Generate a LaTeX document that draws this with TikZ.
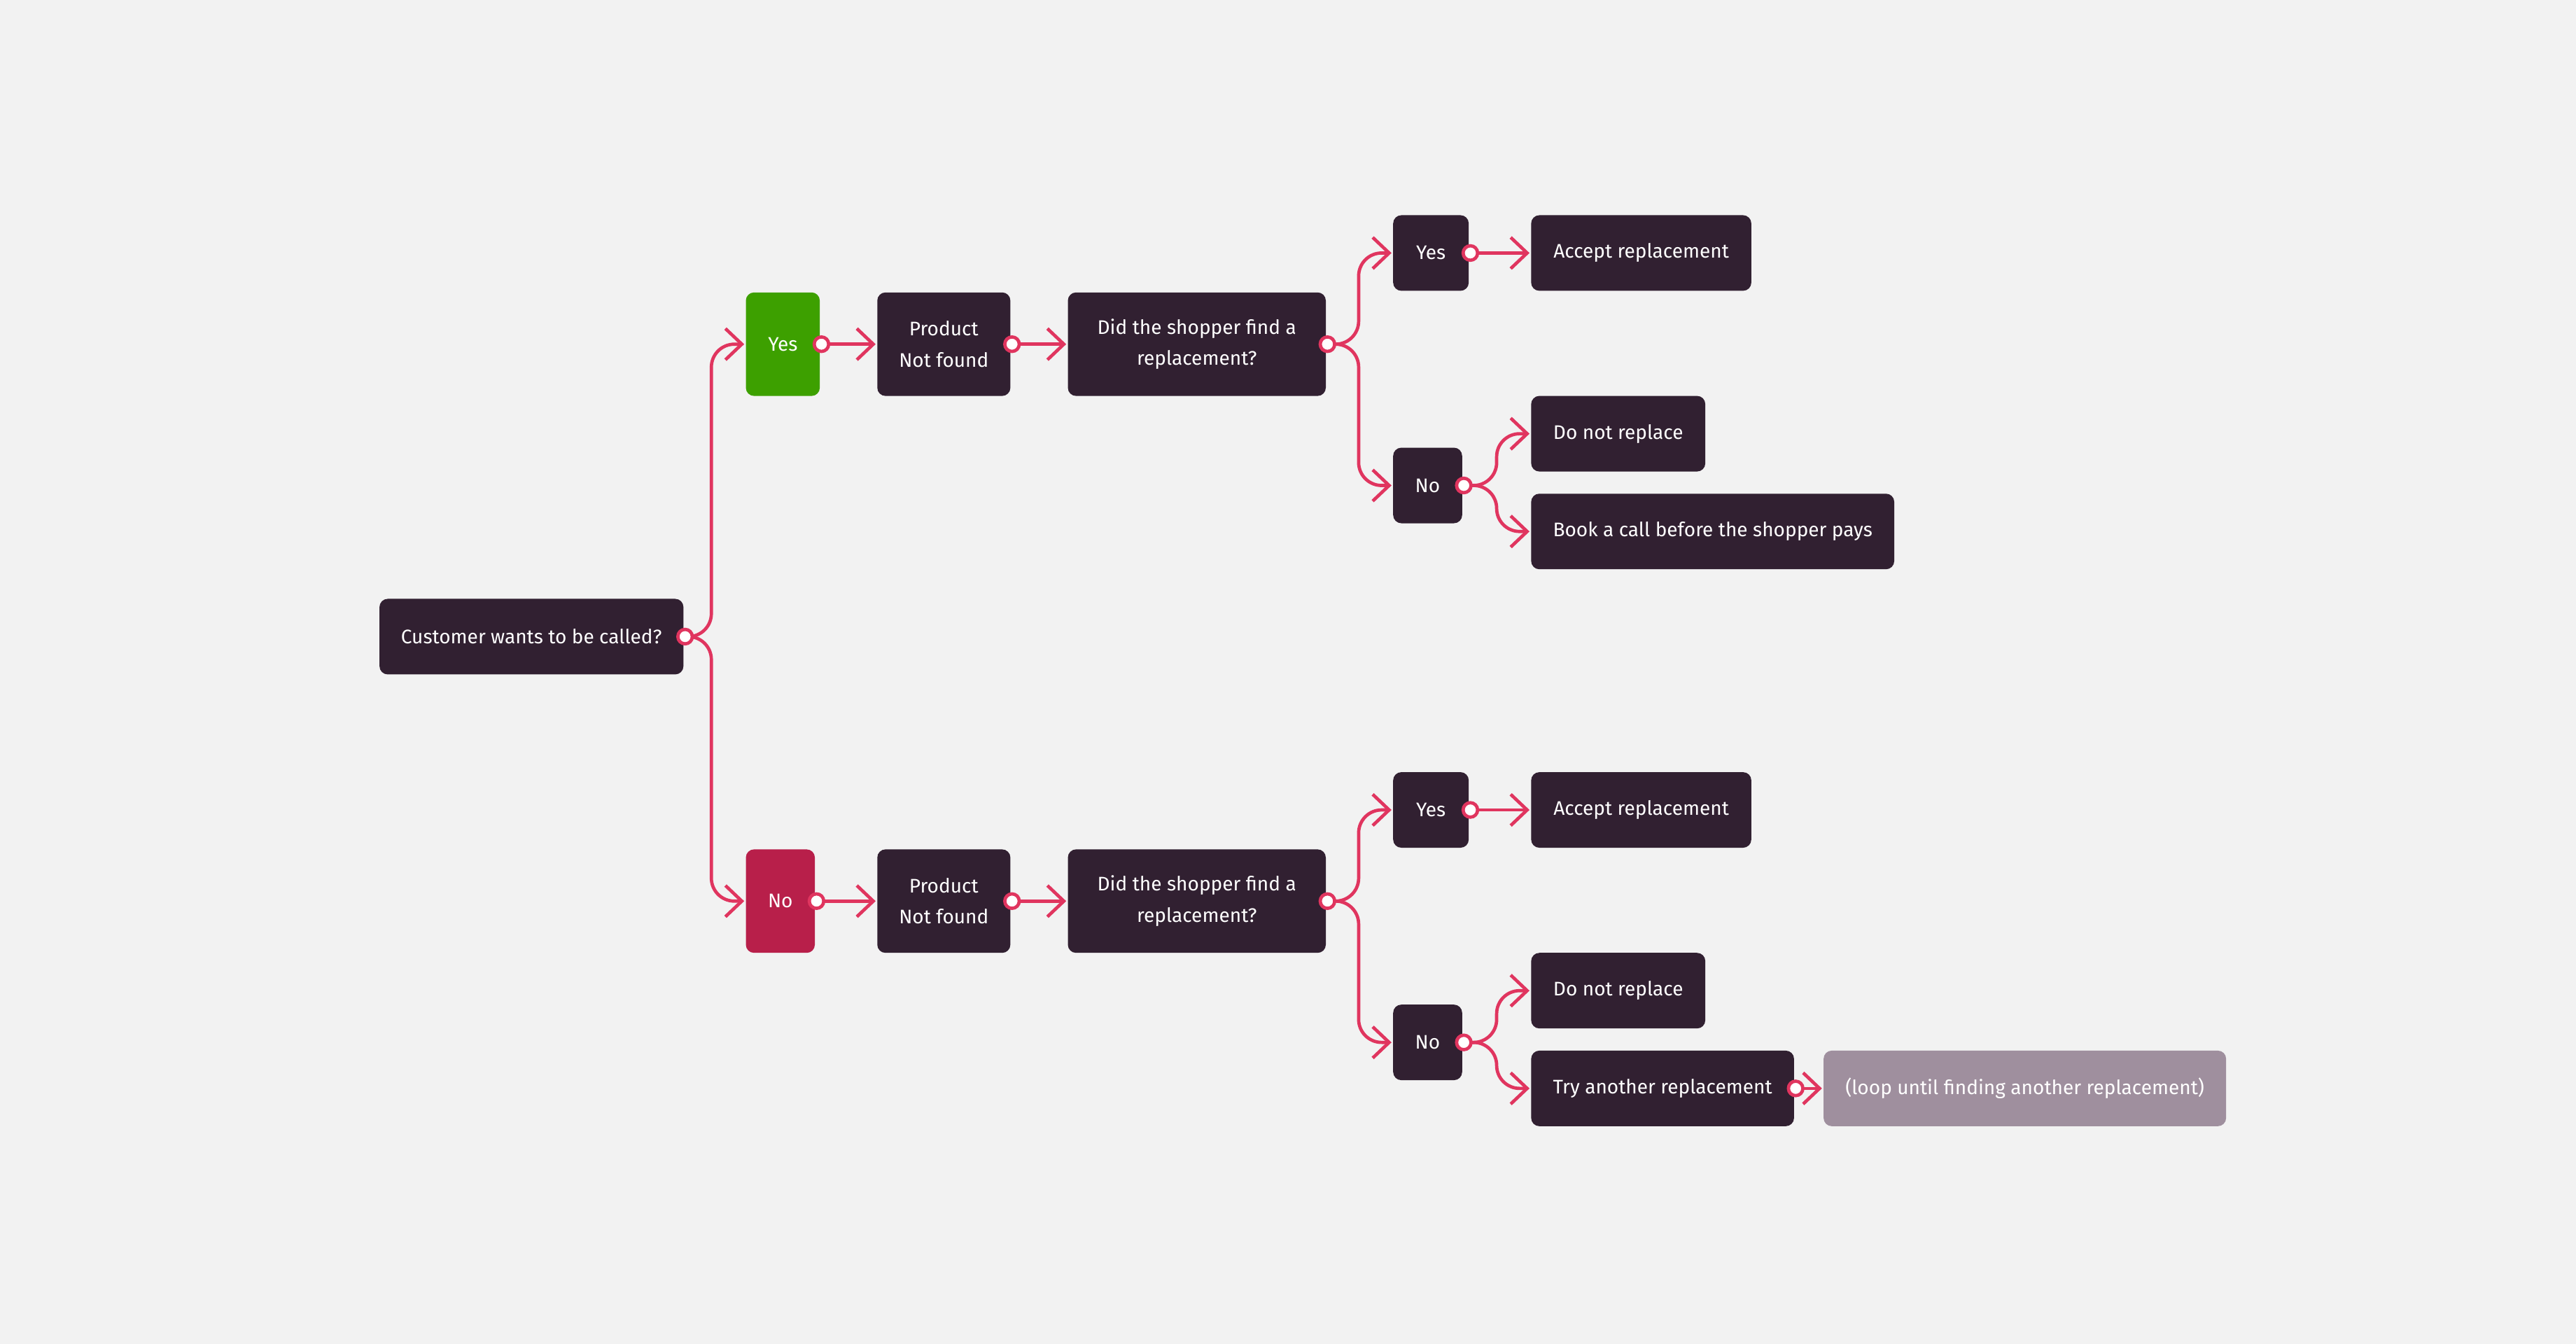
\documentclass[tikz,border=0pt]{standalone}
\usepackage{fontspec}
\setmainfont{Fira Sans}
\usetikzlibrary{arrows.meta, positioning, calc}
\definecolor{cbg}{HTML}{F2F2F2}
\definecolor{cplum}{HTML}{312031}
\definecolor{cgreen}{HTML}{3DA000}
\definecolor{cred}{HTML}{B81F4A}
\definecolor{cpink}{HTML}{E0355F}
\definecolor{cmauve}{HTML}{9F8F9E}
\tikzset{
  every picture/.style={font=\fontsize{17}{27}\selectfont, line width=1mm},
  box/.style={fill=#1, text=white, rounded corners=2.5mm, align=center, inner sep=0pt, minimum height=23mm, anchor=west},
  box/.default=cplum,
  tall/.style={minimum height=31.5mm},
  link/.style={-{Straight Barb[length=5mm, width=9.5mm]}, draw=cpink, line cap=round, line join=round, rounded corners=7mm},
  fork/.style={to path={-| ([xshift=-10mm]\tikztotarget) -- (\tikztotarget)}},
  dot/.style={circle, draw=cpink, fill=white, inner sep=0pt, minimum size=4.4mm},
}

\begin{document}
\begin{tikzpicture}[x=0.5mm, y=-0.5mm]
  \fill[cbg] (0,0) rectangle (1568,818);
  \useasboundingbox (0,0) rectangle (1568,818);
  \node[box, minimum width=92.5mm] (root) at (230,387.5) {Customer wants to be called?};
  \foreach \s/\y/\c/\lab/\w in {A/209.5/cgreen/Yes/22.5mm, B/548.5/cred/No/21mm} {
    \node[box=\c, tall, minimum width=\w] (first\s) at (453,\y) {\lab};
    \node[box, tall, minimum width=40.5mm] (prod\s) at (533,\y) {Product\\Not found};
    \node[box, tall, minimum width=78.5mm] (find\s) at (649,\y) {Did the shopper find a\\replacement?};
    \node[box, minimum width=23mm] (ok\s) at (847,\y-55.5) {Yes};
    \node[box, minimum width=21mm] (nay\s) at (847,\y+86) {No};
    \node[box, minimum width=67mm] (acc\s) at (931,\y-55.5) {Accept replacement};
    \node[box, minimum width=53mm] (keep\s) at (931,\y+54.5) {Do not replace};
    \draw[link, fork] (root.east) to (first\s.west);
    \draw[link] (first\s) -- (prod\s);
    \draw[link] (prod\s) -- (find\s);
    \draw[link, fork] (find\s.east) to (ok\s.west);
    \draw[link, fork] (find\s.east) to (nay\s.west);
    \draw[link] (ok\s) -- (acc\s);
    \draw[link, fork] (nay\s.east) to (keep\s.west);
  }
  % last rows differ
  \node[box, minimum width=110.5mm] (bookA) at (931,323.5) {Book a call before the shopper pays};
  \node[box, minimum width=80mm] (tryB) at (931,662.5) {Try another replacement};
  \node[box=cmauve, minimum width=122.5mm] (loopB) at (1109,662.5) {(loop until finding another replacement)};
  \draw[link, fork] (nayA.east) to (bookA.west);
  \draw[link, fork] (nayB.east) to (tryB.west);
  \draw[link] (tryB) -- (loopB);
  \foreach \n in {root, firstA, prodA, findA, okA, nayA, firstB, prodB, findB, okB, nayB, tryB}
    \node[dot] (dot-\n) at (\n.east) {};
\end{tikzpicture}
\end{document}
